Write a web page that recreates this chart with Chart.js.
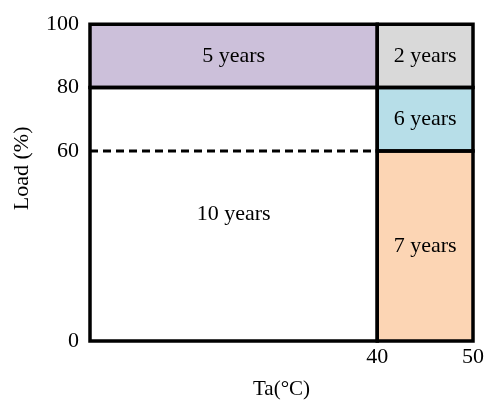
<!DOCTYPE html>
<html><head><meta charset="utf-8">
<script src="https://cdn.jsdelivr.net/npm/chart.js@4/dist/chart.umd.min.js"></script>
<style>html,body{margin:0;padding:0;background:#fff}#wrap{width:489px;height:402px}</style>
</head><body><div id="wrap"><canvas id="c"></canvas></div>
<script>
const regionLabels = ['10 years', '5 years', '2 years', '6 years', '7 years'];
const regionX0 = [10, 10, 40, 40, 40];
const regionX1 = [40, 40, 50, 50, 50];
const regionY0 = [0, 80, 80, 60, 0];
const regionY1 = [80, 100, 100, 80, 60];
const dashedLoad = 60;
const dashedX = [10, 40];
const xTicks = [40, 50];
const yTicks = [0, 60, 80, 100];
const xRange = [10, 50];
const yRange = [0, 100];
const xTitle = 'Ta(°C)';
const yTitle = 'Load (%)';

const fills = ['rgba(255,255,255,1)', '#CCC0DA', '#D9D9D9', '#B7DEE8', '#FCD5B4'];
const FONT = 'Liberation Serif';

const datasets = regionLabels.map((lab, i) => ({
  label: lab,
  data: [
    {x: regionX0[i], y: regionY0[i]},
    {x: regionX0[i], y: regionY1[i]},
    {x: regionX1[i], y: regionY1[i]},
    {x: regionX1[i], y: regionY0[i]},
    {x: regionX0[i], y: regionY0[i]}
  ],
  showLine: true,
  fill: 'shape',
  backgroundColor: fills[i],
  borderColor: '#000',
  borderWidth: 3.5,
  borderJoinStyle: 'miter',
  borderCapStyle: 'square',
  pointRadius: 0,
  tension: 0,
  clip: false
}));
datasets.push({
  label: 'dashed',
  data: dashedX.map(x => ({x, y: dashedLoad})),
  showLine: true,
  fill: false,
  borderColor: '#000',
  borderWidth: 3,
  borderDash: [8, 5],
  borderCapStyle: 'butt',
  pointRadius: 0,
  clip: false
});

const labelPlugin = {
  id: 'regionLabels',
  afterDatasetsDraw(chart) {
    const {ctx, scales: {x, y}} = chart;
    ctx.save();
    ctx.fillStyle = '#000';
    ctx.font = '22px "' + FONT + '"';
    ctx.textAlign = 'center';
    ctx.textBaseline = 'middle';
    regionLabels.forEach((lab, i) => {
      const cx = x.getPixelForValue((regionX0[i] + regionX1[i]) / 2);
      const cy = y.getPixelForValue((regionY0[i] + regionY1[i]) / 2);
      ctx.fillText(lab, cx, cy);
    });
    // y-axis title
    ctx.translate(22, y.getPixelForValue(54.5));
    ctx.rotate(-Math.PI / 2);
    ctx.font = '22px "' + FONT + '"';
    ctx.fillText(yTitle, 0, 0);
    ctx.restore();
  }
};

new Chart(document.getElementById('c'), {
  type: 'scatter',
  data: {datasets},
  plugins: [labelPlugin],
  options: {
    responsive: true,
    maintainAspectRatio: false,
    animation: false,
    layout: {padding: {left: 0, right: 16, top: 22, bottom: 0}},
    plugins: {
      legend: {display: false},
      tooltip: {enabled: false},
      filler: {drawTime: 'beforeDatasetsDraw'}
    },
    scales: {
      x: {
        type: 'linear', min: xRange[0], max: xRange[1],
        grid: {display: false, drawTicks: false}, border: {display: false},
        afterBuildTicks: s => { s.ticks = xTicks.map(v => ({value: v})); },
        afterFit: s => { s.height = 61; },
        ticks: {color: '#000', font: {family: FONT, size: 22}, padding: 3, maxRotation: 0, autoSkip: false},
        title: {display: true, text: xTitle, color: '#000', font: {family: FONT, size: 21}, padding: {top: 0, bottom: 0}}
      },
      y: {
        type: 'linear', min: yRange[0], max: yRange[1],
        grid: {display: false, drawTicks: false}, border: {display: false},
        afterBuildTicks: s => { s.ticks = yTicks.map(v => ({value: v})); },
        afterFit: s => { s.width = 90; },
        ticks: {color: '#000', font: {family: FONT, size: 22}, padding: 11, autoSkip: false}
      }
    }
  }
});
</script></body></html>
